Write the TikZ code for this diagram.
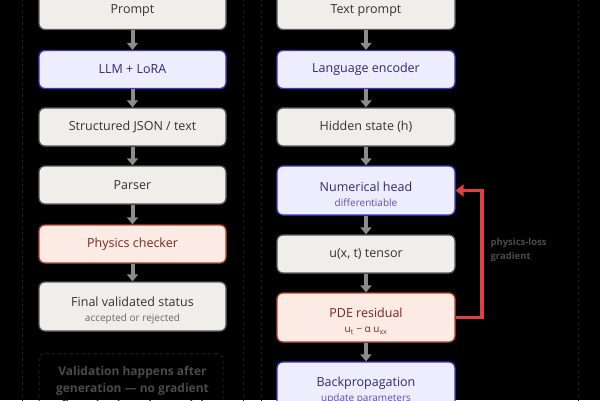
\documentclass[tikz,border=0pt]{standalone}
\usepackage{fontspec}
\setmainfont{Open Sans}
\usetikzlibrary{arrows.meta}
\definecolor{gfill}{HTML}{EFEEEA}
\definecolor{gline}{HTML}{5A5A5A}
\definecolor{gtext}{HTML}{333333}
\definecolor{gsub}{HTML}{6A6A6A}
\definecolor{bfill}{HTML}{EEEDFD}
\definecolor{bline}{HTML}{4535C0}
\definecolor{btext}{HTML}{2E2A78}
\definecolor{bsub}{HTML}{5A50B8}
\definecolor{rfill}{HTML}{FCEBE5}
\definecolor{rline}{HTML}{B5462E}
\definecolor{rtext}{HTML}{7A2418}
\definecolor{arrgray}{HTML}{8C8C8C}
\definecolor{arrred}{HTML}{E0403F}
\definecolor{panel}{HTML}{1E1E1E}
\definecolor{dim}{HTML}{4A4A4A}
\newcommand{\topstrut}{\rule{0pt}{17pt}}
\begin{document}
\begin{tikzpicture}[x=1pt,y=-1pt,
  box/.style={rounded corners=6pt, line width=1.3pt, minimum height=38pt, inner sep=0pt, align=center, font=\fontsize{12.5}{15}\selectfont},
  lbox/.style={box, minimum width=187pt},
  rbox/.style={box, minimum width=178pt},
  tall/.style={minimum height=49pt},
  graybox/.style={fill=gfill, draw=gline, text=gtext},
  bluebox/.style={fill=bfill, draw=bline, text=btext},
  redbox/.style={fill=rfill, draw=rline, text=rtext},
  flow/.style={draw=arrgray, line width=4pt, -{Triangle[width=11pt,length=7pt]}},
  feedback/.style={draw=arrred, line width=3.5pt, -{Triangle[width=12pt,length=8pt]}},
  panelbox/.style={draw=panel, dashed, line width=1pt},
]
\fill[black] (0,0) rectangle (600,400);
\useasboundingbox (0,0) rectangle (600,400);

% panels
\draw[panelbox] (22,-20) rectangle (243,420);
\draw[panelbox] (261,-20) rectangle (578,420);

% left column
\node[lbox, graybox] (P1) at (132.5,10.5) {Prompt};
\node[lbox, bluebox] (P2) at (132.5,69.5) {LLM + LoRA};
\node[lbox, graybox] (P3) at (132.5,127) {Structured JSON / text};
\node[lbox, graybox] (P4) at (132.5,185) {Parser};
\node[lbox, redbox] (P5) at (132.5,244) {Physics checker};
\node[lbox, graybox, tall] (P6) at (132.5,306.5) {\topstrut Final validated status\\{\fontsize{10}{15}\selectfont\color{gsub}accepted or rejected}};

\node[draw=panel, dashed, line width=1pt, rounded corners=6pt, minimum width=184pt, minimum height=80pt, anchor=north] (note) at (131,353) {};
\node[text=dim, font=\bfseries\fontsize{12}{17}\selectfont, align=center, anchor=north] (notetext) at (132.5,363) {Validation happens after\\generation — no gradient\\flows back to the model};

\draw[flow] (P1) -- (P2);
\draw[flow] (P2) -- (P3);
\draw[flow] (P3) -- (P4);
\draw[flow] (P4) -- (P5);
\draw[flow] (P5) -- (P6);

% right column
\node[rbox, graybox] (R1) at (366,10.5) {Text prompt};
\node[rbox, bluebox] (R2) at (366,69.5) {Language encoder};
\node[rbox, graybox] (R3) at (366,127) {Hidden state (h)};
\node[rbox, bluebox, tall] (R4) at (366,190.5) {\topstrut Numerical head\\{\fontsize{10}{15}\selectfont\color{bsub}differentiable}};
\node[rbox, graybox] (R5) at (366,254) {u(x, t) tensor};
\node[rbox, redbox, tall] (R6) at (366,317.5) {\topstrut PDE residual\\{\fontsize{10}{15}\selectfont u\textsubscript{t} − α u\textsubscript{xx}}};
\node[rbox, bluebox, tall] (R7) at (366,386.5) {\topstrut Backpropagation\\{\fontsize{10}{15}\selectfont\color{bsub}update parameters}};

\draw[flow] (R1) -- (R2);
\draw[flow] (R2) -- (R3);
\draw[flow] (R3) -- (R4);
\draw[flow] (R4) -- (R5);
\draw[flow] (R5) -- (R6);
\draw[flow] (R6) -- (R7);

\coordinate (rt) at (482,316);
\draw[feedback] (R6.east) -- (R6.east -| rt) -- (R4.east -| rt) -- (R4.east);
\node[text=dim, font=\bfseries\fontsize{9.5}{14}\selectfont, align=left, anchor=north west] (lbl) at (487,235) {physics-loss\\gradient};
\end{tikzpicture}
\end{document}
